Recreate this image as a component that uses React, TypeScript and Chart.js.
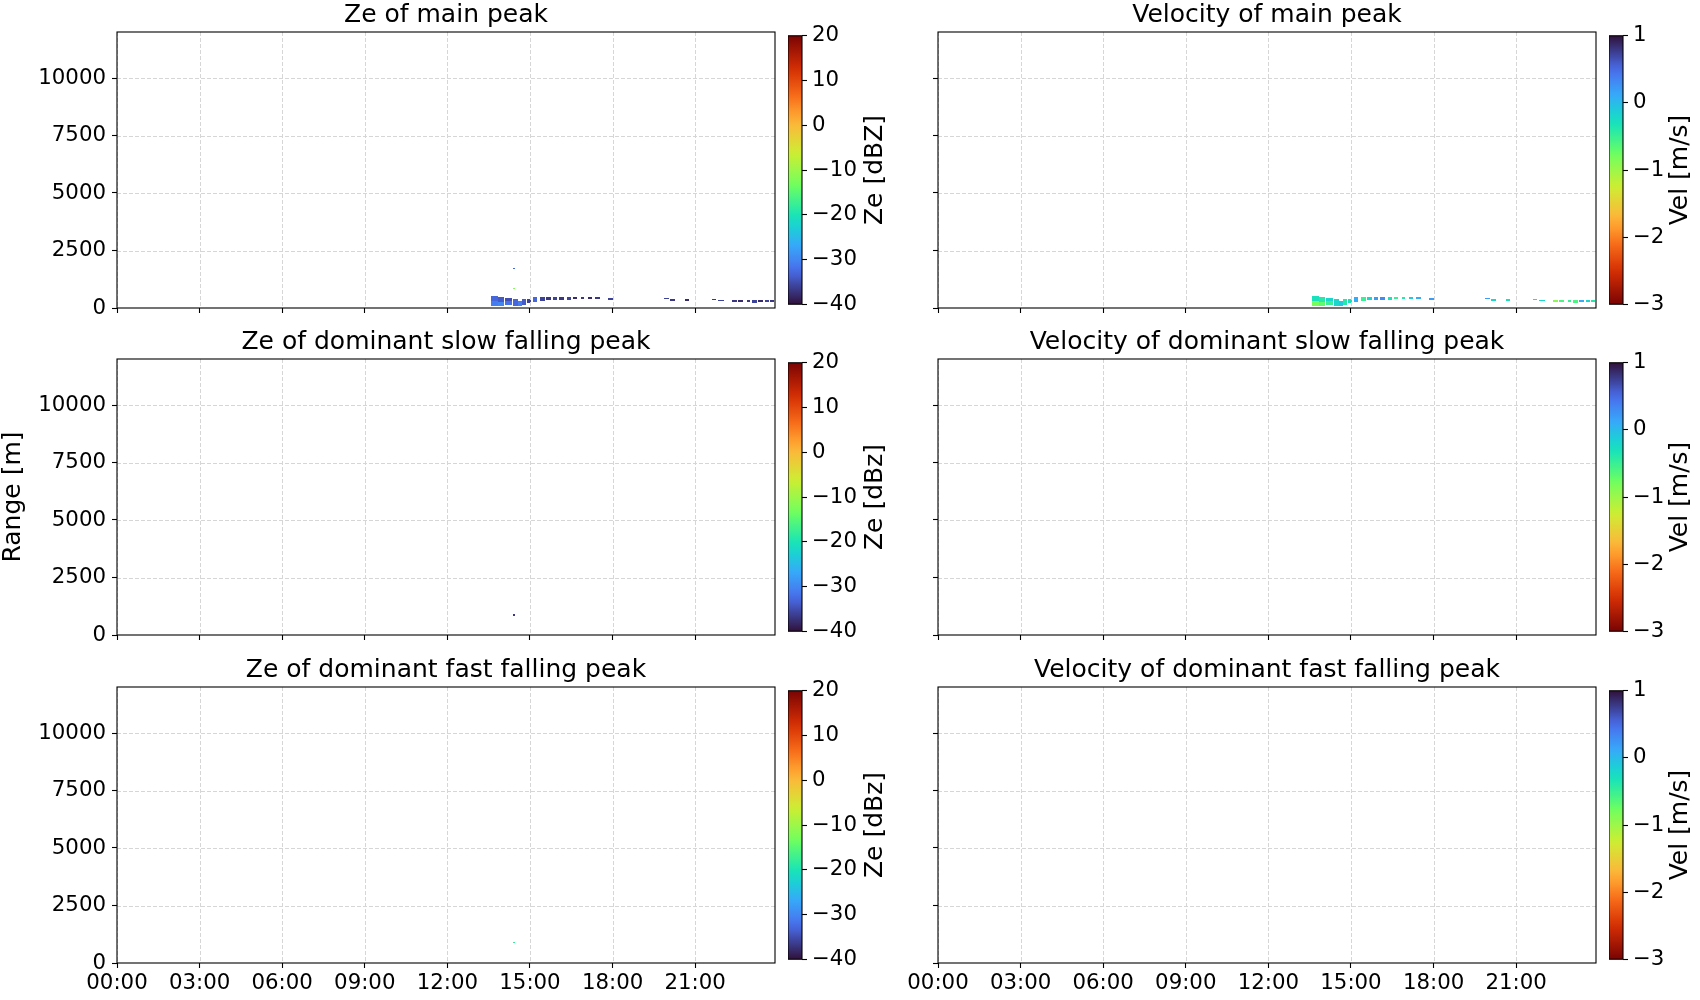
import React, { useEffect, useRef } from "react";
import { Chart, registerables } from "chart.js";
Chart.register(...registerables);

const FONT = "'DejaVu Sans', sans-serif";
const TICK_SIZE = 21.3;
const TITLE_SIZE = 25;

// ---- axes ----
const timeMin = 0;
const timeMax = 23.9;
const timeTicks = [0, 3, 6, 9, 12, 15, 18, 21];
const rangeMin = 0;
const rangeMax = 12000;
const rangeTicks = [0, 2500, 5000, 7500, 10000];
const zeMin = -40;
const zeMax = 20;
const zeTicks = [-40, -30, -20, -10, 0, 10, 20];
const velMin = -3;
const velMax = 1;
const velTicks = [-3, -2, -1, 0, 1];

// ---- main peak cells (hours, metres, values) ----
const cellStart = [13.6, 13.6, 13.85, 13.85, 14.1, 14.1, 14.37, 14.57, 14.72, 14.9, 15.1, 15.37, 15.57, 15.82, 16.07, 16.33, 16.58, 16.85, 17.1, 17.35, 17.85, 19.87, 20.1, 20.63, 21.6, 21.83, 22.32, 22.57, 22.87, 23.05, 23.3, 23.55, 23.73, 14.4, 14.4];
const cellEnd = [13.83, 13.83, 14.07, 14.07, 14.33, 14.33, 14.55, 14.7, 14.85, 15.03, 15.27, 15.55, 15.75, 15.98, 16.25, 16.5, 16.72, 16.97, 17.27, 17.55, 18.0, 20.05, 20.27, 20.78, 21.77, 22.05, 22.52, 22.75, 23.0, 23.23, 23.48, 23.67, 23.86, 14.45, 14.45];
const cellBottom = [100, 300, 100, 280, 130, 290, 100, 100, 130, 200, 275, 300, 350, 350, 350, 350, 370, 380, 390, 390, 340, 380, 320, 320, 330, 300, 280, 275, 275, 210, 240, 275, 275, 1720, 820];
const cellTop = [300, 520, 280, 470, 290, 420, 380, 320, 380, 390, 465, 465, 490, 490, 490, 470, 470, 470, 490, 490, 440, 420, 380, 370, 390, 350, 350, 340, 340, 350, 350, 350, 350, 1760, 870];
const zeMain = [-31, -33, -30, -34, -32, -35, -33, -31, -34, -36, -33, -36, -37, -36, -37, -36, -38, -37, -38, -37, -36, -36, -37, -38, -37, -36, -37, -38, -37, -36, -38, -36, -37, -33, -12];
const velMain = [-0.8, -0.3, -0.7, -0.4, -0.5, -0.2, -0.2, -0.1, -0.4, -0.3, 0.1, -0.5, -0.2, 0.2, 0.3, -0.3, -0.5, -0.4, -0.1, 0.1, 0.2, 0.2, -0.2, -0.3, -0.3, -0.2, -0.9, -0.6, -0.5, -0.6, 0.1, -0.2, -0.4, null, null];

// ---- dominant slow / fast falling peak cells ----
const slowStart = [14.4];
const slowEnd = [14.45];
const slowBottom = [830];
const slowTop = [900];
const zeSlow = [-37];
const velSlow = [null];

const fastStart = [14.4];
const fastEnd = [14.45];
const fastBottom = [860];
const fastTop = [920];
const zeFast = [-18];
const velFast = [null];

// ---- turbo colormap anchors ----
const turboPos = [0, 0.1111, 0.1429, 0.2222, 0.2857, 0.3333, 0.4286, 0.4444, 0.5556, 0.5714, 0.6667, 0.7143, 0.7778, 0.8571, 0.8889, 1];
const turboHex = ["#30123B", "#4662D7", "#4777EF", "#36AAF9", "#1BD0D5", "#1AE4B6", "#62FC6B", "#72FE5E", "#C8EF34", "#D2E935", "#FABA39", "#FE9B2D", "#F66B19", "#DB3A07", "#CB2A04", "#7A0403"];

function hexRgb(h: string) {
  return [parseInt(h.slice(1, 3), 16), parseInt(h.slice(3, 5), 16), parseInt(h.slice(5, 7), 16)];
}
function turbo(t: number) {
  const x = Math.max(0, Math.min(1, t));
  let i = 0;
  while (i < turboPos.length - 2 && x > turboPos[i + 1]) i++;
  const f = (x - turboPos[i]) / (turboPos[i + 1] - turboPos[i]);
  const a = hexRgb(turboHex[i]);
  const b = hexRgb(turboHex[i + 1]);
  const c = a.map((v, k) => Math.round(v + (b[k] - v) * f));
  return `rgb(${c[0]},${c[1]},${c[2]})`;
}
const zeColor = (v: number) => turbo((v - zeMin) / (zeMax - zeMin));
const velColor = (v: number) => turbo(1 - (v - velMin) / (velMax - velMin));

function makeCells(s: number[], e: number[], b: number[], t: number[], v: (number | null)[]) {
  return s.map((x0, i) => ({ x0, x1: e[i], y0: b[i], y1: t[i], v: v[i] }));
}

const fmtTime = (v: number) => String(v).padStart(2, "0") + ":00";
const fmtMinus = (v: number) => (v < 0 ? "\u2212" + Math.abs(v) : String(v));
const fixedTicks = (vals: number[]) => (s: any) => {
  s.ticks = vals.map((value) => ({ value }));
};

// ---- layout ----
const plotW = 658;
const plotH = 276;
const rowTops = [32, 359, 687];
const leftPlotX = 117;
const rightPlotX = 938;
const leftCbX = 788;
const rightCbX = 1609;
const cbW = 14;

function Panel(props: any) {
  const { left, top, axisW, title, cells, colorOf, showX, showY, yTitle } = props;
  const ref = useRef<HTMLCanvasElement>(null);
  const width = axisW + plotW + 10;
  const height = 32 + plotH + 37;
  useEffect(() => {
    const plugin = {
      id: "cellsGridFrame",
      beforeDatasetsDraw(chart: any) {
        const { ctx, chartArea: a, scales } = chart;
        const xs = scales.x;
        const ys = scales.y;
        ctx.save();
        ctx.beginPath();
        ctx.rect(a.left, a.top, a.right - a.left, a.bottom - a.top);
        ctx.clip();
        cells.forEach((c: any) => {
          if (c.v == null) return;
          const px0 = Math.round(xs.getPixelForValue(c.x0));
          const px1 = Math.round(xs.getPixelForValue(c.x1));
          const py0 = Math.round(ys.getPixelForValue(c.y0));
          const py1 = Math.round(ys.getPixelForValue(c.y1));
          ctx.fillStyle = colorOf(c.v);
          ctx.fillRect(px0, py1, Math.max(1, px1 - px0), Math.max(1, py0 - py1));
        });
        ctx.strokeStyle = "#d6d6d6";
        ctx.lineWidth = 1;
        ctx.setLineDash([4, 2]);
        xs.ticks.forEach((t: any) => {
          const p = Math.round(xs.getPixelForValue(t.value)) + 0.5;
          ctx.beginPath();
          ctx.moveTo(p, a.top);
          ctx.lineTo(p, a.bottom);
          ctx.stroke();
        });
        ys.ticks.forEach((t: any) => {
          const p = Math.round(ys.getPixelForValue(t.value)) + 0.5;
          ctx.beginPath();
          ctx.moveTo(a.left, p);
          ctx.lineTo(a.right, p);
          ctx.stroke();
        });
        ctx.restore();
      },
      afterDraw(chart: any) {
        const { ctx, chartArea: a } = chart;
        ctx.save();
        ctx.strokeStyle = "#000";
        ctx.lineWidth = 1.1;
        ctx.strokeRect(a.left, a.top, a.right - a.left, a.bottom - a.top);
        ctx.restore();
      },
    };
    const chart = new Chart(ref.current as HTMLCanvasElement, {
      type: "scatter",
      data: {
        datasets: [
          {
            data: cells.map((c: any) => ({ x: c.x0, y: c.y0 })),
            pointRadius: 0,
            showLine: false,
          },
        ],
      },
      options: {
        animation: false,
        responsive: false,
        devicePixelRatio: 1,
        events: [],
        layout: { padding: { left: 0, right: 10, top: 0, bottom: 0 } },
        plugins: {
          legend: { display: false },
          tooltip: { enabled: false },
          title: {
            display: true,
            text: title,
            fullSize: false,
            color: "#000",
            font: { family: FONT, size: TITLE_SIZE, weight: "normal" },
            padding: { top: 0, bottom: 2 },
          },
        },
        scales: {
          x: {
            type: "linear",
            min: timeMin,
            max: timeMax,
            afterBuildTicks: fixedTicks(timeTicks),
            ticks: {
              autoSkip: false,
              maxRotation: 0,
              minRotation: 0,
              padding: 3,
              color: "#000",
              font: { family: FONT, size: TICK_SIZE },
              callback: (v: any) => (showX ? fmtTime(Number(v)) : ""),
            },
            grid: { drawOnChartArea: false, drawTicks: true, tickLength: 5, tickColor: "#000", tickWidth: 1.1 },
            border: { display: false },
            afterFit: (s: any) => {
              s.height = 37;
            },
          },
          y: {
            type: "linear",
            min: rangeMin,
            max: rangeMax,
            afterBuildTicks: fixedTicks(rangeTicks),
            ticks: {
              autoSkip: false,
              padding: 6,
              color: "#000",
              font: { family: FONT, size: TICK_SIZE },
              callback: (v: any) => (showY ? String(v) : ""),
            },
            title: yTitle
              ? { display: true, text: yTitle, color: "#000", padding: 0, font: { family: FONT, size: TITLE_SIZE, lineHeight: 1.04 } }
              : { display: false },
            grid: { drawOnChartArea: false, drawTicks: true, tickLength: 5, tickColor: "#000", tickWidth: 1.1 },
            border: { display: false },
            afterFit: (s: any) => {
              s.width = axisW;
            },
          },
        },
      } as any,
      plugins: [plugin],
    });
    return () => chart.destroy();
  }, []);
  return (
    <canvas
      ref={ref}
      width={width}
      height={height}
      style={{ position: "absolute", left, top: top - 32, width, height }}
    />
  );
}

function Colorbar(props: any) {
  const { left, top, width, min, max, ticks, label, labelOffset, colorOf } = props;
  const ref = useRef<HTMLCanvasElement>(null);
  const height = plotH + 28;
  useEffect(() => {
    const plugin = {
      id: "colorbarDraw",
      afterDraw(chart: any) {
        const { ctx, chartArea: a } = chart;
        ctx.save();
        const g = ctx.createLinearGradient(0, a.bottom, 0, a.top);
        const n = 64;
        for (let i = 0; i <= n; i++) {
          g.addColorStop(i / n, colorOf(min + ((max - min) * i) / n));
        }
        ctx.fillStyle = g;
        ctx.fillRect(a.left, a.top, a.right - a.left, a.bottom - a.top);
        ctx.strokeStyle = "#000";
        ctx.lineWidth = 1.1;
        ctx.strokeRect(a.left, a.top, a.right - a.left, a.bottom - a.top);
        ctx.translate(a.right + labelOffset, (a.top + a.bottom) / 2);
        ctx.rotate(-Math.PI / 2);
        ctx.fillStyle = "#000";
        ctx.font = `${TITLE_SIZE}px ${FONT}`;
        ctx.textAlign = "center";
        ctx.textBaseline = "middle";
        ctx.fillText(label, 0, 0);
        ctx.restore();
      },
    };
    const chart = new Chart(ref.current as HTMLCanvasElement, {
      type: "scatter",
      data: { datasets: [] },
      options: {
        animation: false,
        responsive: false,
        devicePixelRatio: 1,
        events: [],
        layout: { padding: { left: 0, right: 0, top: 14, bottom: 14 } },
        plugins: { legend: { display: false }, tooltip: { enabled: false } },
        scales: {
          x: { type: "linear", display: false, min: 0, max: 1 },
          y: {
            type: "linear",
            position: "right",
            min,
            max,
            afterBuildTicks: fixedTicks(ticks),
            ticks: {
              autoSkip: false,
              padding: 5,
              color: "#000",
              font: { family: FONT, size: TICK_SIZE },
              callback: (v: any) => fmtMinus(Number(v)),
            },
            grid: { drawOnChartArea: false, drawTicks: true, tickLength: 5, tickColor: "#000", tickWidth: 1.1 },
            border: { display: false },
            afterFit: (s: any) => {
              s.width = width - cbW;
            },
          },
        },
      } as any,
      plugins: [plugin],
    });
    return () => chart.destroy();
  }, []);
  return (
    <canvas
      ref={ref}
      width={width}
      height={height}
      style={{ position: "absolute", left, top: top - 14, width, height }}
    />
  );
}

const zeTitles = ["Ze of main peak", "Ze of dominant slow falling peak", "Ze of dominant fast falling peak"];
const velTitles = ["Velocity of main peak", "Velocity of dominant slow falling peak", "Velocity of dominant fast falling peak"];
const zeLabels = ["Ze [dBZ]", "Ze [dBz]", "Ze [dBz]"];
const velLabel = "Vel [m/s]";

export default function App() {
  const zeCells = [
    makeCells(cellStart, cellEnd, cellBottom, cellTop, zeMain),
    makeCells(slowStart, slowEnd, slowBottom, slowTop, zeSlow),
    makeCells(fastStart, fastEnd, fastBottom, fastTop, zeFast),
  ];
  const velCells = [
    makeCells(cellStart, cellEnd, cellBottom, cellTop, velMain),
    makeCells(slowStart, slowEnd, slowBottom, slowTop, velSlow),
    makeCells(fastStart, fastEnd, fastBottom, fastTop, velFast),
  ];
  return (
    <div style={{ position: "absolute", left: 0, top: 0, width: 1700, height: 1000, background: "#fff", overflow: "hidden" }}>
      {rowTops.map((top, r) => (
        <React.Fragment key={r}>
          <Panel
            left={0}
            top={top}
            axisW={leftPlotX}
            title={zeTitles[r]}
            cells={zeCells[r]}
            colorOf={zeColor}
            showX={r === 2}
            showY={true}
            yTitle={r === 1 ? "Range [m]" : null}
          />
          <Colorbar left={leftCbX} top={top} width={110} min={zeMin} max={zeMax} ticks={zeTicks} label={zeLabels[r]} labelOffset={73} colorOf={zeColor} />
          <Panel
            left={rightPlotX - 60}
            top={top}
            axisW={60}
            title={velTitles[r]}
            cells={velCells[r]}
            colorOf={velColor}
            showX={r === 2}
            showY={false}
            yTitle={null}
          />
          <Colorbar left={rightCbX} top={top} width={91} min={velMin} max={velMax} ticks={velTicks} label={velLabel} labelOffset={57} colorOf={velColor} />
        </React.Fragment>
      ))}
    </div>
  );
}
